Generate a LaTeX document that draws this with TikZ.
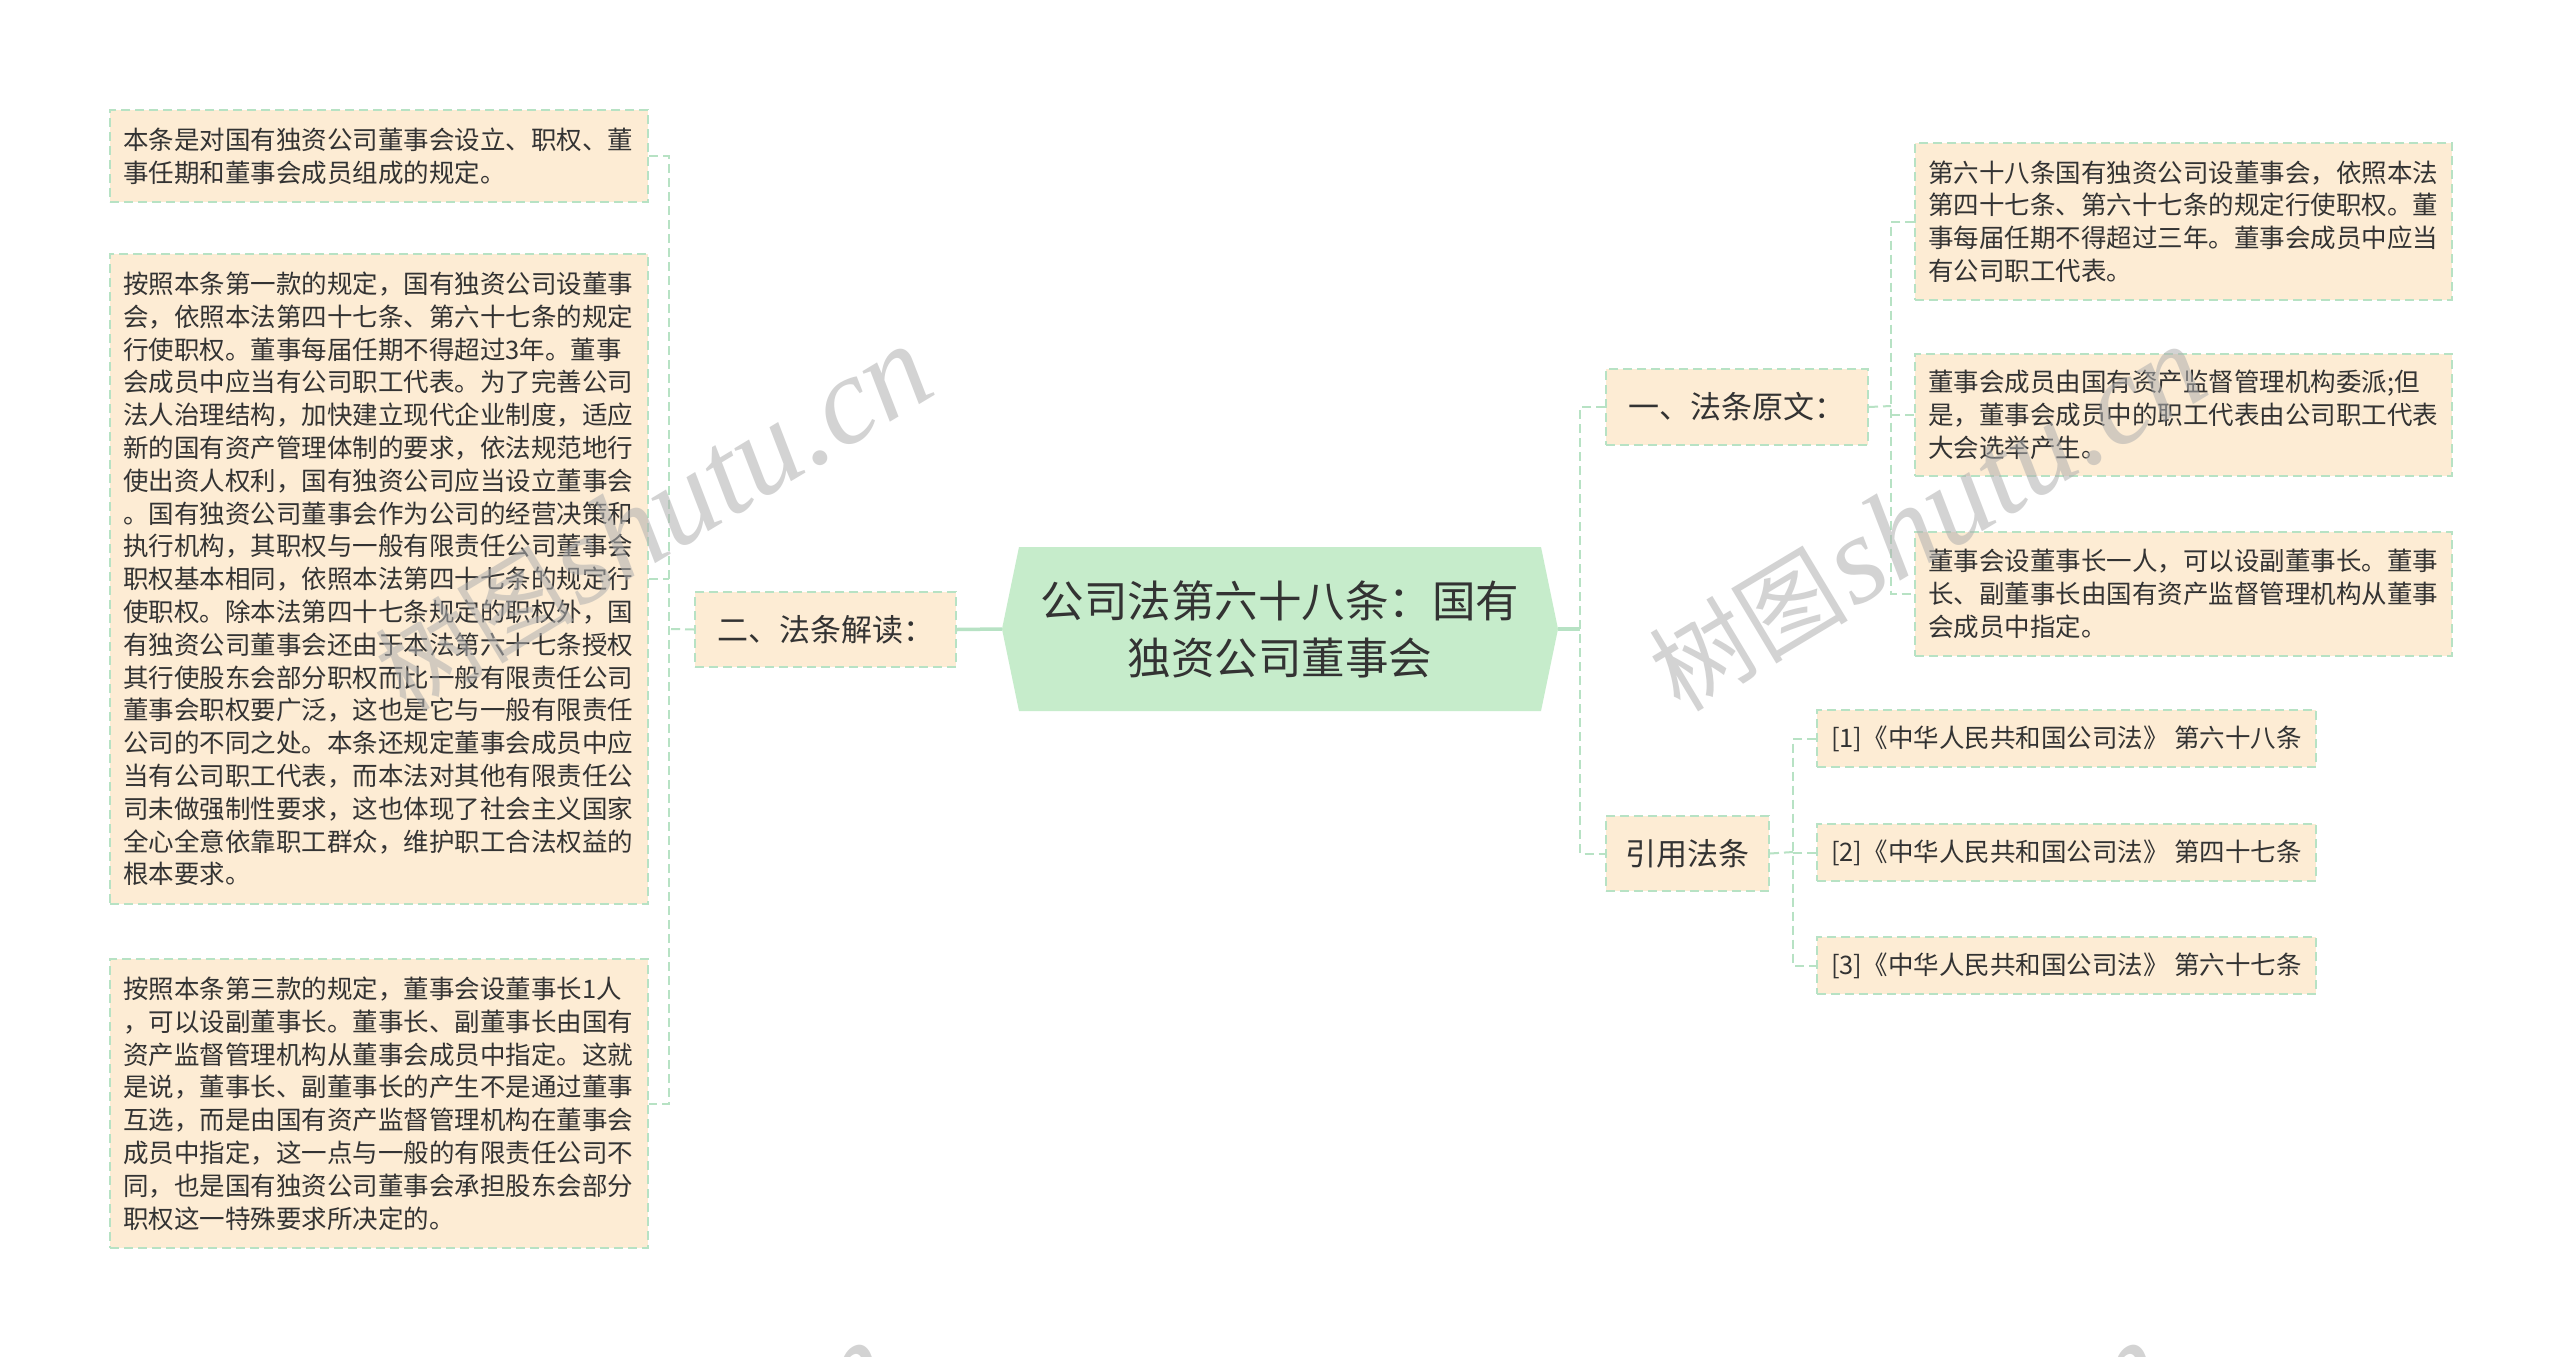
\documentclass[tikz,border=0pt]{standalone}
\usepackage{fontspec}
\newfontfamily\cjk{Noto Sans CJK SC}
\newfontfamily\wmserif{Liberation Serif}
\usetikzlibrary{backgrounds}
\definecolor{boxfill}{RGB}{253,236,212}
\definecolor{boxline}{RGB}{183,226,196}
\definecolor{hexfill}{RGB}{198,236,203}
\definecolor{txt}{RGB}{51,51,51}
\definecolor{wm}{RGB}{175,175,175}
\begin{document}
\begin{tikzpicture}[x=1pt,y=-1pt,
  box/.style={draw=boxline, fill=boxfill, dash pattern=on 9pt off 5pt, line width=2pt,
    inner xsep=13pt, inner ysep=0pt, text=txt, anchor=north west},
  small/.style={box, align=left, font=\cjk\fontsize{25.5}{32.8}\selectfont},
  mid/.style={box, align=center, inner xsep=0pt, font=\cjk\fontsize{31}{38}\selectfont},
  link/.style={draw=boxline, line width=2pt, dash pattern=on 9pt off 5pt},
  solidlink/.style={draw=boxline, line width=3.5pt},
  wmark/.style={text=wm, opacity=0.55, rotate=31, inner sep=0pt}]
\useasboundingbox (0,0) rectangle (2560,1357);
\fill[white] (0,0) rectangle (2560,1357);

% centre hexagon
\coordinate (hexL) at (1002,629);
\coordinate (hexR) at (1558,629);
\fill[hexfill] (hexL) -- (1019,547) -- (1541,547) -- (hexR) -- (1541,711) -- (1019,711) -- cycle;
\node[text=txt, align=center, font=\cjk\fontsize{43.5}{57}\selectfont] (c) at (1280,629)
  {公司法第六十八条：国有\\独资公司董事会};

% left branch
\node[mid, minimum width=261pt, minimum height=75pt] (er) at (694,591) {二、法条解读：};
\node[small, text width=512pt, minimum height=92pt] (L1) at (109,109)
  {本条是对国有独资公司董事会设立、职权、董\\事任期和董事会成员组成的规定。};
\node[small, text width=512pt, minimum height=650pt] (L2) at (109,253)
  {按照本条第一款的规定，国有独资公司设董事\\
   会，依照本法第四十七条、第六十七条的规定\\
   行使职权。董事每届任期不得超过3年。董事\\
   会成员中应当有公司职工代表。为了完善公司\\
   法人治理结构，加快建立现代企业制度，适应\\
   新的国有资产管理体制的要求，依法规范地行\\
   使出资人权利，国有独资公司应当设立董事会\\
   。国有独资公司董事会作为公司的经营决策和\\
   执行机构，其职权与一般有限责任公司董事会\\
   职权基本相同，依照本法第四十七条的规定行\\
   使职权。除本法第四十七条规定的职权外，国\\
   有独资公司董事会还由于本法第六十七条授权\\
   其行使股东会部分职权而比一般有限责任公司\\
   董事会职权要广泛，这也是它与一般有限责任\\
   公司的不同之处。本条还规定董事会成员中应\\
   当有公司职工代表，而本法对其他有限责任公\\
   司未做强制性要求，这也体现了社会主义国家\\
   全心全意依靠职工群众，维护职工合法权益的\\
   根本要求。};
\node[small, text width=512pt, minimum height=289pt] (L3) at (109,958)
  {按照本条第三款的规定，董事会设董事长1人\\
   ，可以设副董事长。董事长、副董事长由国有\\
   资产监督管理机构从董事会成员中指定。这就\\
   是说，董事长、副董事长的产生不是通过董事\\
   互选，而是由国有资产监督管理机构在董事会\\
   成员中指定，这一点与一般的有限责任公司不\\
   同，也是国有独资公司董事会承担股东会部分\\
   职权这一特殊要求所决定的。};

% right branch
\node[mid, minimum width=262pt, minimum height=76pt] (yi) at (1605,368) {一、法条原文：};
\node[mid, minimum width=163pt, minimum height=75pt] (yy) at (1605,815) {引用法条};
\node[small, text width=511pt, minimum height=157pt] (R1) at (1914,142)
  {第六十八条国有独资公司设董事会，依照本法\\
   第四十七条、第六十七条的规定行使职权。董\\
   事每届任期不得超过三年。董事会成员中应当\\
   有公司职工代表。};
\node[small, text width=511pt, minimum height=122pt] (R2) at (1914,353)
  {董事会成员由国有资产监督管理机构委派;但\\
   是，董事会成员中的职工代表由公司职工代表\\
   大会选举产生。};
\node[small, text width=511pt, minimum height=124pt] (R3) at (1914,531)
  {董事会设董事长一人，可以设副董事长。董事\\
   长、副董事长由国有资产监督管理机构从董事\\
   会成员中指定。};
\node[small, inner xsep=0pt, align=center, minimum width=499pt, minimum height=57pt] (C1) at (1816,709)
  {[1]《中华人民共和国公司法》 第六十八条};
\node[small, inner xsep=0pt, align=center, minimum width=499pt, minimum height=57pt] (C2) at (1816,823)
  {[2]《中华人民共和国公司法》 第四十七条};
\node[small, inner xsep=0pt, align=center, minimum width=499pt, minimum height=57pt] (C3) at (1816,936)
  {[3]《中华人民共和国公司法》 第六十七条};

% connectors
\coordinate (lt) at (669,629);
\coordinate (rt) at (1580,629);
\coordinate (yt) at (1891,406);
\coordinate (ct) at (1793,852);
\draw[solidlink] (hexL) -- (er.east);
\draw[link] (er.west) -- (lt);
\draw[link] (L1.east) -- (L1.east -| lt) -- (L3.east -| lt) -- (L3.east);
\draw[link] (L2.east) -- (L2.east -| lt);

\draw[solidlink] (hexR) -- (rt);
\draw[link] (yi.west) -- (yi.west -| rt) -- (yy.west -| rt) -- (yy.west);

\draw[link] (yi.east) -- (yt);
\draw[link] (R1.west) -- (R1.west -| yt) -- (R3.west -| yt) -- (R3.west);
\draw[link] (R2.west) -- (R2.west -| yt);

\draw[link] (yy.east) -- (ct);
\draw[link] (C1.west) -- (C1.west -| ct) -- (C3.west -| ct) -- (C3.west);
\draw[link] (C2.west) -- (C2.west -| ct);

% watermarks
\node[wmark] (wm1) at (653,519) {{\cjk\fontsize{100}{100}\selectfont 树图} {\wmserif\itshape\fontsize{125}{125}\selectfont shutu.cn}};
\node[wmark] (wm2) at (1927,519) {{\cjk\fontsize{100}{100}\selectfont 树图} {\wmserif\itshape\fontsize{125}{125}\selectfont shutu.cn}};
\node[wmark] (wm3) at (612,1515) {{\cjk\fontsize{100}{100}\selectfont 树图} {\wmserif\itshape\fontsize{125}{125}\selectfont shutu.cn}};
\node[wmark] (wm4) at (1886,1515) {{\cjk\fontsize{100}{100}\selectfont 树图} {\wmserif\itshape\fontsize{125}{125}\selectfont shutu.cn}};
\end{tikzpicture}
\end{document}
